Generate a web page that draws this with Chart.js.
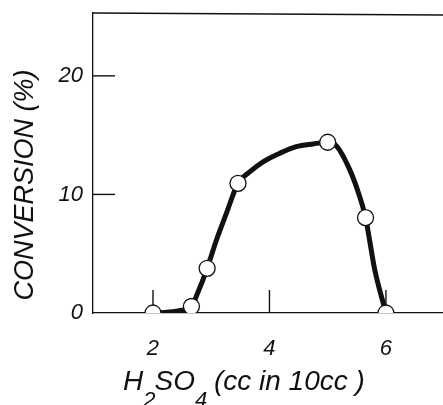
<!DOCTYPE html>
<html>
<head>
<meta charset="utf-8">
<script src="https://cdn.jsdelivr.net/npm/chart.js@4/dist/chart.umd.min.js"></script>
<style>
  html, body { margin: 0; padding: 0; background: #fff; overflow: hidden; }
  #wrap { width: 443px; height: 405px; }
</style>
</head>
<body>
<div id="wrap"><canvas id="c" width="443" height="405"></canvas></div>
<script>
// ---- data ----
const xTicks = [2, 4, 6];
const yTicks = [0, 10, 20];
const xTickLabels = ['2', '4', '6'];
const yTickLabels = ['0', '10', '20'];

// measured points (open circles)
const pointX = [2.0, 2.66, 2.93, 3.46, 5.0, 5.65, 6.0];
const pointY = [0, 0.55, 3.77, 10.94, 14.4, 8.04, 0];

// hand-drawn smooth curve
const curveX = [2.0, 2.2, 2.45, 2.66, 2.76, 2.93, 3.09, 3.26, 3.46, 3.66, 3.89, 4.18, 4.46, 4.75, 5.0, 5.15, 5.38, 5.55, 5.65, 5.81, 6.0];
const curveY = [0, 0.05, 0.2, 0.55, 1.6, 3.77, 6.16, 8.4, 10.94, 11.9, 12.75, 13.48, 14.03, 14.26, 14.4, 14.1, 12.07, 9.8, 8.04, 3.6, 0];

const yTitle = 'CONVERSION (%)';
const xTitleParts = [
  { t: 'H', sub: false },
  { t: '2', sub: true },
  { t: 'SO', sub: false },
  { t: '4', sub: true },
  { t: ' (cc in 10cc )', sub: false }
];

const INK = '#111';
const FONT = '"Liberation Sans", Arial, sans-serif';

const framePlugin = {
  id: 'frame',
  beforeDatasetsDraw(chart) {
    const { ctx, chartArea: a, scales } = chart;
    ctx.save();
    ctx.strokeStyle = INK;
    ctx.lineWidth = 1.3;
    // top border
    ctx.beginPath();
    ctx.moveTo(a.left, a.top);
    ctx.lineTo(a.right, a.top + 2);
    ctx.stroke();
    // inward ticks on x axis
    ctx.lineWidth = 1.4;
    scales.x.ticks.forEach(t => {
      const px = scales.x.getPixelForValue(t.value);
      ctx.beginPath();
      ctx.moveTo(px, a.bottom);
      ctx.lineTo(px, a.bottom - 23);
      ctx.stroke();
    });
    // inward ticks on y axis
    scales.y.ticks.forEach(t => {
      if (t.value === 0) return;
      const py = scales.y.getPixelForValue(t.value);
      ctx.beginPath();
      ctx.moveTo(a.left, py);
      ctx.lineTo(a.left + 22, py);
      ctx.stroke();
    });
    ctx.restore();
  },
  afterDraw(chart) {
    const { ctx } = chart;
    ctx.save();
    ctx.fillStyle = INK;
    // y title
    ctx.font = 'italic 27px ' + FONT;
    ctx.translate(25, 185);
    ctx.rotate(-Math.PI / 2);
    ctx.textAlign = 'center';
    ctx.textBaseline = 'middle';
    ctx.fillText(yTitle, 0, 0);
    ctx.restore();

    // x title with lowered subscripts
    ctx.save();
    ctx.fillStyle = INK;
    ctx.textAlign = 'left';
    ctx.textBaseline = 'alphabetic';
    let x = 123;
    xTitleParts.forEach(p => {
      ctx.font = (p.sub ? 'italic 22px ' : 'italic 28px ') + FONT;
      const y = p.sub ? 407 : 390;
      ctx.fillText(p.t, x, y);
      x += ctx.measureText(p.t).width + (p.sub ? -1 : 0);
    });
    ctx.restore();
  }
};

new Chart(document.getElementById('c'), {
  type: 'line',
  data: {
    datasets: [
      {
        label: 'points',
        data: pointX.map((v, i) => ({ x: v, y: pointY[i] })),
        showLine: false,
        pointRadius: 8,
        pointHoverRadius: 8,
        pointBackgroundColor: '#fff',
        pointBorderColor: INK,
        pointBorderWidth: 1.3,
        order: 0,
        clip: { left: 20, top: 20, right: 20, bottom: 0 }
      },
      {
        label: 'curve',
        data: curveX.map((v, i) => ({ x: v, y: curveY[i] })),
        borderColor: INK,
        borderWidth: 5,
        pointRadius: 0,
        cubicInterpolationMode: 'monotone',
        fill: false,
        order: 1,
        clip: { left: 20, top: 20, right: 20, bottom: 0 }
      }
    ]
  },
  options: {
    responsive: false,
    animation: false,
    devicePixelRatio: 1,
    layout: { autoPadding: false, padding: { top: 13, right: 0, left: 0, bottom: 0 } },
    plugins: { legend: { display: false }, tooltip: { enabled: false } },
    scales: {
      x: {
        type: 'linear',
        min: 0.97,
        max: 6.98,
        afterBuildTicks: s => { s.ticks = xTicks.map(v => ({ value: v })); },
        afterFit: s => { s.height = 92; s.paddingLeft = 0; s.paddingRight = 0; },
        grid: { display: false, drawTicks: false },
        border: { display: true, color: INK, width: 1.3 },
        ticks: {
          padding: 23,
          color: INK,
          font: { family: FONT, size: 22, style: 'italic' },
          callback: v => xTickLabels[xTicks.indexOf(v)]
        }
      },
      y: {
        type: 'linear',
        min: 0,
        max: 25.3,
        afterBuildTicks: s => { s.ticks = yTicks.map(v => ({ value: v })); },
        afterFit: s => { s.width = 93; s.paddingTop = 0; s.paddingBottom = 0; },
        grid: { display: false, drawTicks: false },
        border: { display: true, color: INK, width: 1.3 },
        ticks: {
          padding: 10,
          color: INK,
          font: { family: FONT, size: 22, style: 'italic' },
          callback: v => yTickLabels[yTicks.indexOf(v)]
        }
      }
    }
  },
  plugins: [framePlugin]
});
</script>
</body>
</html>
